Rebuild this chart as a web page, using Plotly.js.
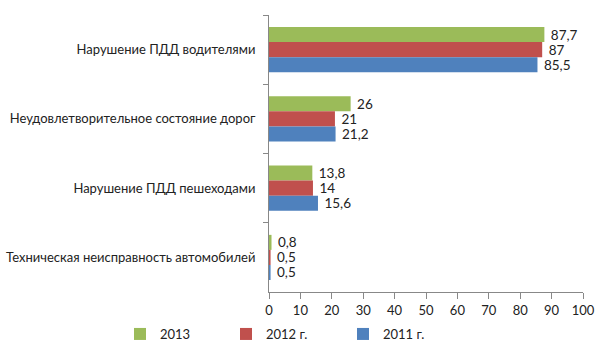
<!DOCTYPE html>
<html><head><meta charset="utf-8">
<script src="https://cdn.plot.ly/plotly-3.0.1.min.js"></script>
<style>html,body{margin:0;padding:0;background:#fff}#c{width:602px;height:353px}</style>
</head><body><div id="c"></div>
<script>
const categories = ["Нарушение ПДД водителями","Неудовлетворительное состояние дорог","Нарушение ПДД пешеходами","Техническая неисправность автомобилей"];
const v2013 = [87.7, 26, 13.8, 0.8];
const v2012 = [87, 21, 14, 0.5];
const v2011 = [85.5, 21.2, 15.6, 0.5];
const seriesNames = ["2013", "2012 г.", "2011 г."];
const colors = ["#9BBB59", "#C0504D", "#4F81BD"];
const fmt = v => '\u00a0' + String(v).replace('.', ',');
const F = "Lato, 'Open Sans', sans-serif";
const legendIds = ['legend', 'legend2', 'legend3'];
const legendX = [120, 226, 343];
const data = [v2013, v2012, v2011].map((vals, i) => ({
  type: 'bar', orientation: 'h', y: categories, x: vals, name: seriesNames[i],
  marker: {color: colors[i]}, text: vals.map(fmt), textposition: 'outside', constraintext: 'none',
  textfont: {family: F, size: 13.5, color: '#222'}, cliponaxis: false,
  hoverinfo: 'none', legend: legendIds[i]
}));
const layout = {
  width: 602, height: 353, margin: {l: 269, r: 19, t: 15, b: 61, autoexpand: false},
  paper_bgcolor: '#fff', plot_bgcolor: '#fff', barmode: 'group', bargap: 0.35, bargroupgap: 0,
  font: {family: F, size: 13, color: '#222'},
  xaxis: {range: [0, 100], dtick: 10, tick0: 0, showgrid: false, zeroline: false,
    showline: true, linecolor: '#888', linewidth: 1, ticks: 'outside', ticklen: 6, tickcolor: '#888',
    tickfont: {family: F, size: 13, color: '#222'}, fixedrange: true},
  yaxis: {type: 'category', autorange: 'reversed', showgrid: false, zeroline: false,
    showline: true, linecolor: '#888', linewidth: 1, ticks: 'outside', ticklen: 5, tickcolor: '#888',
    tickson: 'boundaries', ticklabelstandoff: 10, tickfont: {family: F, size: 13, color: '#222'}},
  showlegend: true
};
legendIds.forEach((id, i) => {
  layout[id] = {orientation: 'h', xref: 'container', yref: 'container', x: legendX[i] / 602, xanchor: 'left',
    y: 1 - 334 / 353, yanchor: 'middle', itemwidth: 30, bgcolor: 'rgba(0,0,0,0)',
    font: {family: F, size: 13, color: '#222'}};
});
Plotly.newPlot('c', data, layout, {displayModeBar: false, staticPlot: true});
</script></body></html>
